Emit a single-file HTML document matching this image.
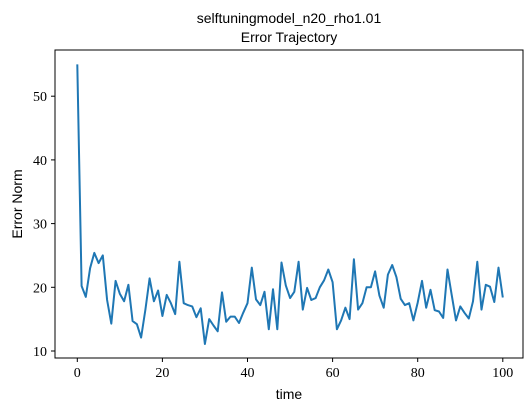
<!DOCTYPE html>
<html><head><meta charset="utf-8"><style>
body{margin:0;background:#fff;width:531px;height:412px;overflow:hidden}
svg text{fill:#000}
.t{font-family:"Liberation Sans",sans-serif;font-size:14px}
.k{font-family:"Liberation Serif",serif;font-size:14px}
</style></head><body>
<svg id="c" width="531" height="412">
<text class="t" x="289" y="23" text-anchor="middle">selftuningmodel_n20_rho1.01</text>
<text class="t" x="289" y="42" text-anchor="middle">Error Trajectory</text>
<rect x="55" y="50" width="468" height="308" fill="none" stroke="#000" stroke-width="1"/>
<g id="xt"></g>
<g id="yt"></g>
<text class="t" x="289" y="399" text-anchor="middle">time</text>
<text class="t" x="0" y="0" text-anchor="middle" transform="translate(22,204) rotate(-90)">Error Norm</text>
<path id="line" fill="none" stroke="#1f77b4" stroke-width="2" stroke-linejoin="round"/>
</svg>
<script>
const xTicks=[0,20,40,60,80,100];
const yTicks=[10,20,30,40,50];
const errorNorm=[55,20.2,18.5,23,25.4,23.8,25,18,14.3,21,19,17.8,20.4,14.7,14.2,12.1,16.5,21.4,17.8,19.5,15.5,18.8,17.5,15.8,24,17.5,17.2,17,15.3,16.7,11.1,15,14,13.1,19.2,14.6,15.4,15.4,14.4,16,17.5,23.1,18.1,17.2,19.3,13.4,19.7,13.4,23.9,20.3,18.3,19.3,24,16.5,19.9,18,18.3,20,21.1,22.8,20.8,13.4,14.8,16.8,15,24.4,16.5,17.5,20,20,22.5,18.7,16.8,22,23.5,21.6,18.2,17.2,17.5,14.8,17.6,21,16.8,19.6,16.4,16.2,15.2,22.8,18.8,14.8,17,16,15.1,17.8,24,16.5,20.4,20.1,17.7,23.1,18.4];
const X=v=>77.3+v*4.255;
const Y=v=>351+(10-v)*6.37;
const NS="http://www.w3.org/2000/svg";
const xt=document.getElementById('xt'),yt=document.getElementById('yt');
xTicks.forEach(v=>{
 const l=document.createElementNS(NS,'line');
 
 
 l.setAttribute('x1',X(v));l.setAttribute('x2',X(v));l.setAttribute('y1',358);l.setAttribute('y2',362);l.setAttribute('stroke','#000');
 xt.appendChild(l);
 const t=document.createElementNS(NS,'text');
 
 
 t.setAttribute('class','k');t.setAttribute('x',X(v));t.setAttribute('y',377);t.setAttribute('text-anchor','middle');t.textContent=v;
 xt.appendChild(t);
});
yTicks.forEach(v=>{
 const l=document.createElementNS(NS,'line');
 
 
 l.setAttribute('x1',51);l.setAttribute('x2',55);l.setAttribute('y1',Y(v));l.setAttribute('y2',Y(v));l.setAttribute('stroke','#000');
 yt.appendChild(l);
 const t=document.createElementNS(NS,'text');
 
 
 t.setAttribute('class','k');t.setAttribute('x',47);t.setAttribute('y',Y(v)+5);t.setAttribute('text-anchor','end');t.textContent=v;
 yt.appendChild(t);
});
document.getElementById('line').setAttribute('d',errorNorm.map((v,i)=>(i?'L':'M')+X(i).toFixed(1)+' '+Y(v).toFixed(1)).join(''));
</script>
</body></html>
